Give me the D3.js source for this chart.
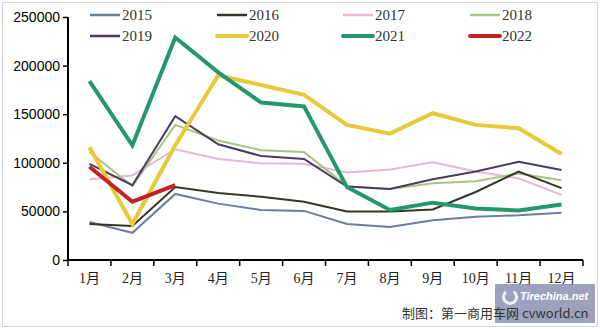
<!DOCTYPE html>
<html><head><meta charset="utf-8">
<script src="https://cdn.jsdelivr.net/npm/d3@7/dist/d3.min.js"></script>
<style>body{margin:0;background:#fff}svg{display:block}</style>
</head><body><svg id="c" width="600" height="329"></svg>
<script>
const months = ["1月","2月","3月","4月","5月","6月","7月","8月","9月","10月","11月","12月"];
const yTicks = [0,50000,100000,150000,200000,250000];
const s2015 = [39000,28000,68000,58000,51500,50500,37000,34000,41000,44500,46000,48500];
const s2016 = [37000,35000,75000,69000,65000,60000,50000,50000,52000,70000,91000,74000];
const s2017 = [83000,87000,114000,104000,99500,99000,90000,93000,100500,91000,84000,67000];
const s2018 = [111000,76000,139000,123000,113000,111000,76000,73000,79000,81000,89000,82000];
const s2019 = [99000,77000,148000,119000,107000,104000,75500,73000,83000,91000,101000,92500];
const s2020 = [116000,37000,118000,190000,180000,170000,139000,130000,151000,139000,135500,109000];
const s2021 = [184000,118000,229000,193000,162000,158000,75000,51500,59000,53000,51000,57000];
const s2022 = [96000,60000,77000];

const series = [
  {name:"2015", data:s2015, color:"#6d7e97", w:2},
  {name:"2016", data:s2016, color:"#34362a", w:2},
  {name:"2017", data:s2017, color:"#e3b9d6", w:2},
  {name:"2018", data:s2018, color:"#a9c485", w:2},
  {name:"2019", data:s2019, color:"#4b3b5c", w:2},
  {name:"2020", data:s2020, color:"#e8c93a", w:4},
  {name:"2021", data:s2021, color:"#23986a", w:4},
  {name:"2022", data:s2022, color:"#c42222", w:4}
];

const svg = d3.select("#c");
svg.append("rect").attr("x",2.5).attr("y",2.5).attr("width",595).attr("height",324)
  .attr("fill","none").attr("stroke","#d6d6d6").attr("stroke-width",1);

const x = d3.scaleBand().domain(months).range([68,583]);
const y = d3.scaleLinear().domain([0,250000]).range([260,17]);

// y axis
const ya = svg.append("g").attr("transform","translate(68,0)")
  .call(d3.axisLeft(y).tickValues(yTicks).tickSize(5).tickFormat(d3.format("d")));
ya.select(".domain").attr("stroke","#000").attr("stroke-width",2).attr("d","M0,17V260");
ya.selectAll(".tick line").attr("stroke","#000").attr("stroke-width",1.5);
ya.selectAll("text").attr("font-family","Liberation Sans, Arial, sans-serif")
  .attr("font-size",14).attr("fill","#000").attr("x",-8);

// x axis
const xa = svg.append("g").attr("transform","translate(0,260)")
  .call(d3.axisBottom(x).tickSize(0));
xa.select(".domain").attr("stroke","#000").attr("stroke-width",2).attr("d","M68,0H583");
const tickPos = months.map(m=>x(m)).concat([583]);
xa.selectAll(".xt").data(tickPos).enter().append("line").attr("class","xt")
  .attr("x1",d=>d).attr("x2",d=>d).attr("y1",0).attr("y2",6)
  .attr("stroke","#000").attr("stroke-width",1.5);
xa.selectAll(".tick text").attr("font-family","Liberation Serif, 'Noto Sans CJK SC', serif")
  .attr("font-size",14).attr("fill","#222").attr("dy",0).attr("y",23);

// lines
const line = d3.line().x((d,i)=>x(months[i])+x.bandwidth()/2).y(d=>y(d));
const order = [2,3,4,0,1,5,6,7];
order.forEach(k=>{
  const s = series[k];
  svg.append("path").datum(s.data).attr("d",line).attr("fill","none")
    .attr("stroke",s.color).attr("stroke-width",s.w).attr("stroke-linejoin","miter");
});

// legend
const lgX = [90,217,343,470], lgY = [15,36];
series.forEach((s,i)=>{
  const lx = lgX[i%4], ly = lgY[Math.floor(i/4)];
  const g = svg.append("g");
  g.append("line").attr("x1",lx).attr("x2",lx+30).attr("y1",ly).attr("y2",ly)
    .attr("stroke",s.color).attr("stroke-width",s.w===4?4:2.5).attr("stroke-linecap",s.w===4?"round":"butt");
  g.append("text").attr("x",lx+32).attr("y",ly+5).text(s.name)
    .attr("font-family","Liberation Sans, serif").attr("font-family","Liberation Serif, serif")
    .attr("font-size",15).attr("fill","#333");
});

// watermark
const wm = svg.append("g");
wm.append("rect").attr("x",495).attr("y",284).attr("width",100).attr("height",39)
  .attr("fill","#8c90b2").attr("opacity",0.85);
wm.append("path").attr("d", d3.arc()({innerRadius:5,outerRadius:8,startAngle:0.6,endAngle:5.6}))
  .attr("transform","translate(510,297)").attr("fill","#eef0f8");
wm.append("text").attr("x",520).attr("y",300).text("Tirechina.net")
  .attr("font-family","Liberation Sans, sans-serif").attr("font-style","italic").attr("font-weight","bold")
  .attr("font-size",11).attr("fill","#fff");

// source note (drawn over the watermark box)
svg.append("text").attr("x",402).attr("y",318).text("制图：第一商用车网 cvworld.cn")
  .attr("font-family","'Noto Sans CJK SC', sans-serif").attr("font-size",13).attr("fill","#333");
</script></body></html>
